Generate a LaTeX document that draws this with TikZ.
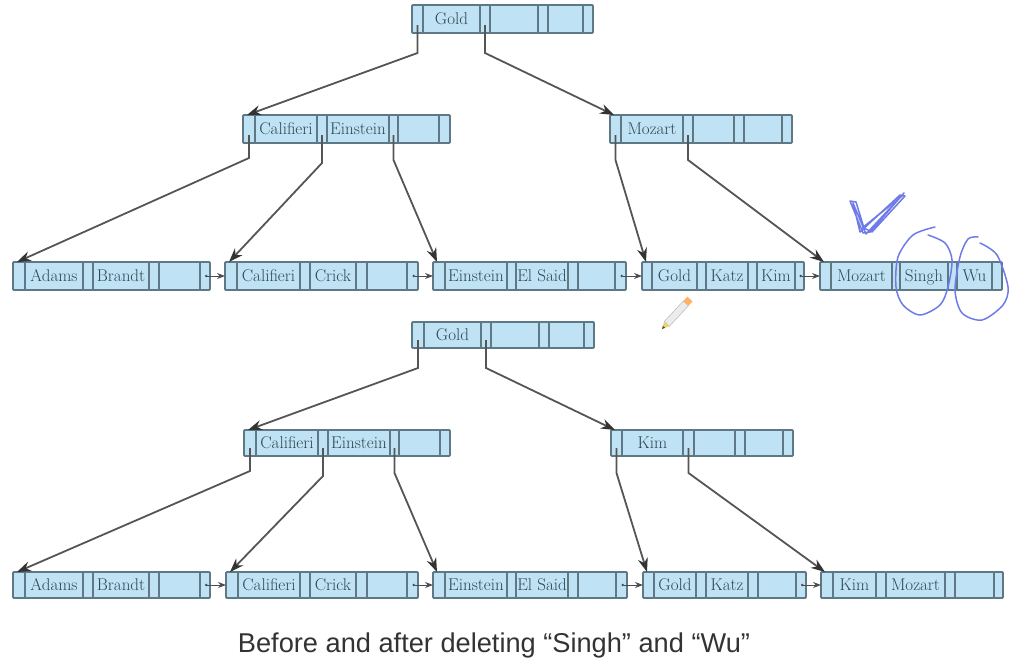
\documentclass[tikz,border=0pt]{standalone}
\usepackage{fontspec}
\newfontfamily\capfont{Liberation Sans}
\usetikzlibrary{arrows.meta,calc}
\definecolor{cellfill}{HTML}{BFE3F4}
\definecolor{celledge}{HTML}{5F7885}
\definecolor{celltext}{HTML}{2F4652}
\definecolor{wire}{HTML}{555555}
\definecolor{ink}{HTML}{6F7CE8}
\tikzset{
  bpbox/.style={draw=celledge,fill=cellfill,line width=1.8pt,rounded corners=1pt,inner sep=0pt,outer sep=0pt,anchor=north west},
  bpdiv/.style={draw=celledge,line width=1.8pt},
  bplabel/.style={text=celltext,font=\fontsize{17}{19}\selectfont,inner sep=0pt,anchor=base},
  ptr/.style={draw=wire,line width=1.8pt,-{Stealth[length=14pt,width=10pt,color=black!80]}},
  lnk/.style={draw=black!70,line width=1pt,{Circle[length=2.5pt]}-{Stealth[length=8pt,width=6pt]}},
  inkline/.style={draw=ink,line width=1.5pt,line cap=round,line join=round}
}
\newcommand{\bpnode}[9]{%
  \pgfmathsetmacro{\bpw}{#3-#2}\pgfmathsetmacro{\bph}{#5-#4}%
  \node[bpbox,minimum width=\bpw pt,minimum height=\bph pt] (#1) at (#2,#4) {};%
  \foreach \d in {#6} \draw[bpdiv] (\d,#4) -- (\d,#5);%
  \bplabels{#1}{#2}{#3}{#4}{#5}{#6}{#7}{#8}{#9}%
}
\newcommand{\bplabels}[9]{%
  \bpparse#6\relax
  \pgfmathsetmacro{\ym}{(#4+#5)/2}%
  \pgfmathsetmacro{\yb}{\ym+5.5}%
  \node[bplabel] (#1-a) at ({(\da+\db)/2},\yb) {#7};%
  \node[bplabel] (#1-b) at ({(\dc+\dd)/2},\yb) {#8};%
  \node[bplabel] (#1-c) at ({(\de+\df)/2},\yb) {#9};%
  \coordinate (#1-p0) at ({(#2+\da)/2},{#5-8});%
  \coordinate (#1-p1) at ({(\db+\dc)/2},{#5-8});%
  \coordinate (#1-p2) at ({(\dd+\de)/2},{#5-8});%
  \coordinate (#1-p3) at ({(\df+#3)/2},\ym);%
  \coordinate (#1-in) at ({#2+4},#4);%
  \coordinate (#1-w) at (#2,\ym);%
}
\def\bpparse#1,#2,#3,#4,#5,#6\relax{\def\da{#1}\def\db{#2}\def\dc{#3}\def\dd{#4}\def\de{#5}\def\df{#6}}
\begin{document}
\begin{tikzpicture}[x=1pt,y=-1pt]
\useasboundingbox (0,0) rectangle (1031,664);
% --- before ---
\bpnode{r}{412}{593}{5}{33}{423,480,490,538,548,583}{Gold}{}{}
\bpnode{ml}{243}{450}{115}{143}{255,317,327,389,398,439}{Califieri}{Einstein}{}
\bpnode{mr}{610}{792}{115}{143}{621,683,693,734,744,782}{Mozart}{}{}
\bpnode{a}{13}{210}{262}{290}{25,83,93,149,159,200}{Adams}{Brandt}{}
\bpnode{b}{225}{418}{262}{290}{237,300,310,356,367,407}{Califieri}{Crick}{}
\bpnode{c}{433}{626}{262}{290}{445,507,516,568,578,615}{Einstein}{El Said}{}
\bpnode{d}{642}{804}{262}{290}{652,697,706,748,757,795}{Gold}{Katz}{Kim}
\bpnode{e}{820}{1002}{262}{290}{831,892,900,948,957,992}{Mozart}{Singh}{Wu}
\draw[ptr] (r-p0) -- ++(0,28) -- (ml-in);
\draw[ptr] (r-p1) -- ++(0,28) -- (mr-in);
\draw[ptr] (ml-p0) -- ++(0,23) -- (a-in);
\draw[ptr] (ml-p1) -- ++(0,28) -- (b-in);
\draw[ptr] (ml-p2) -- ++(0,25) -- (c-in);
\draw[ptr] (mr-p0) -- ++(0,25) -- (d-in);
\draw[ptr] (mr-p1) -- ++(0,25) -- (e-in);
\draw[lnk] (a-p3) -- (b-w);
\draw[lnk] (b-p3) -- (c-w);
\draw[lnk] (c-p3) -- (d-w);
\draw[lnk] (d-p3) -- (e-w);
% --- after ---
\bpnode{r2}{412}{594}{322}{348}{424,481,491,539,549,584}{Gold}{}{}
\bpnode{ml2}{244}{450}{430}{456}{256,318,328,390,399,440}{Califieri}{Einstein}{}
\bpnode{mr2}{611}{793}{430}{456}{622,683,694,735,745,783}{Kim}{}{}
\bpnode{a2}{13}{210}{572}{598}{25,83,93,149,159,200}{Adams}{Brandt}{}
\bpnode{b2}{226}{418}{572}{598}{238,300,310,356,367,407}{Califieri}{Crick}{}
\bpnode{c2}{433}{627}{572}{598}{445,507,516,568,578,616}{Einstein}{El Said}{}
\bpnode{d2}{643}{806}{572}{598}{654,696,706,748,758,796}{Gold}{Katz}{}
\bpnode{e2}{821}{1003}{572}{598}{833,876,886,945,955,994}{Kim}{Mozart}{}
\draw[ptr] (r2-p0) -- ++(0,28) -- (ml2-in);
\draw[ptr] (r2-p1) -- ++(0,28) -- (mr2-in);
\draw[ptr] (ml2-p0) -- ++(0,23) -- (a2-in);
\draw[ptr] (ml2-p1) -- ++(0,28) -- (b2-in);
\draw[ptr] (ml2-p2) -- ++(0,25) -- (c2-in);
\draw[ptr] (mr2-p0) -- ++(0,25) -- (d2-in);
\draw[ptr] (mr2-p1) -- ++(0,25) -- (e2-in);
\draw[lnk] (a2-p3) -- (b2-w);
\draw[lnk] (b2-p3) -- (c2-w);
\draw[lnk] (c2-p3) -- (d2-w);
\draw[lnk] (d2-p3) -- (e2-w);
% --- handwritten marks ---
\draw[inkline] (850,201) -- (863,233) -- (870,232) -- (904,193) -- (866,234) -- (853,203) -- (860,232) -- (900,195) -- (905,196) -- (872,232) -- (864,228) -- (856,202) -- (850,201);
\draw[inkline] (862,228) -- (902,196);
\draw[inkline] plot[smooth] coordinates {(928,235) (945,243) (952,260) (948,287) (940,305) (920,315) (903,305) (896,287) (898,257) (913,235) (935,227)};
\draw[inkline] plot[smooth] coordinates {(980,243) (997,255) (1008,287) (1003,305) (982,320) (962,313) (955,290) (960,257) (968,239) (978,237)};
% --- pencil ---
\begin{scope}[shift={(662,329)},rotate=47]
\fill[gray!15,draw=gray!50,line width=0.6pt] (7,-3.5) rectangle (35,3.5);
\fill[orange!60] (35,-3.5) rectangle (41,3.5);
\fill[yellow!50!brown!70] (0,0) -- (7,-3.5) -- (7,3.5) -- cycle;
\fill[black!70] (0,0) -- (3,-1.5) -- (3,1.5) -- cycle;
\end{scope}
% --- caption ---
\node[font=\capfont\fontsize{27.2}{30}\selectfont,text=black!80,inner sep=0pt] (cap) at (494,645) {Before and after deleting “Singh” and “Wu”};
\end{tikzpicture}
\end{document}
